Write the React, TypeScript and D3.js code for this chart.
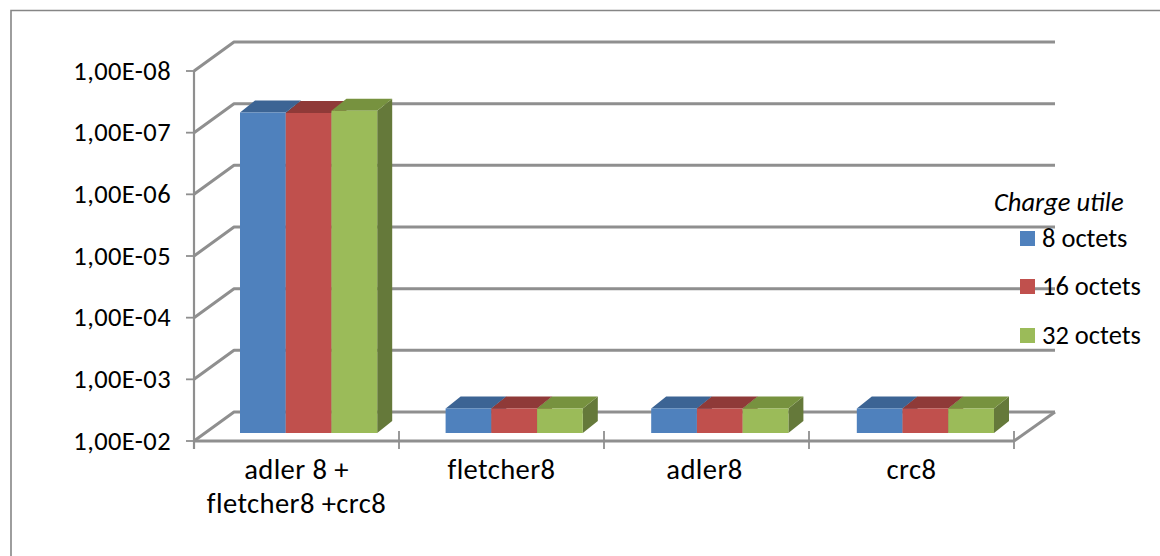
import React from "react";
import * as d3 from "d3";

const categories = ["adler 8 +\nfletcher8 +crc8", "fletcher8", "adler8", "crc8"];
const seriesNames = ["8 octets", "16 octets", "32 octets"];
const values8 = [6.35e-8, 4e-3, 4e-3, 4e-3];
const values16 = [6.47e-8, 4e-3, 4e-3, 4e-3];
const values32 = [5.94e-8, 4e-3, 4e-3, 4e-3];
const allValues = [values8, values16, values32];
const yTicks = [1e-8, 1e-7, 1e-6, 1e-5, 1e-4, 1e-3, 1e-2];
const yLabels = ["1,00E-08", "1,00E-07", "1,00E-06", "1,00E-05", "1,00E-04", "1,00E-03", "1,00E-02"];
const frontColors = ["#4f81bd", "#c0504d", "#9bbb59"];
const topColors = ["#3c6494", "#8f3a38", "#77923f"];
const sideColors = ["#34506f", "#6f2f2d", "#65793a"];

const FONT = "Carlito, Calibri, Lato, sans-serif";
const LINE = "#8f8f8f";
const DX = 40, DY = 29;
const barDX = 15, barDY = 12;

export default function App() {
  const x = d3.scaleBand<number>().domain(d3.range(categories.length)).range([194, 1014]);
  const xBar = d3.scaleBand<number>().domain(d3.range(categories.length)).range([240, 240 + 4 * 205.6]);
  const y = d3.scaleLog().domain([1e-2, 1e-8]).range([441, 71]);
  const yBar = d3.scaleLog().domain([1e-2, 1e-8]).range([433, 63]);
  const inner = d3.scaleBand<number>().domain([0, 1, 2]).range([0, 137.2]);

  return (
    <svg
      width={1160}
      height={556}
      style={{ position: "absolute", left: 0, top: 0, background: "#fff" }}
      fontFamily={FONT}
    >
      <path d="M11,556V10.5H1160" fill="none" stroke="#868686" strokeWidth={1.6} />

      <g stroke={LINE} strokeWidth={3} fill="none" style={{ filter: "blur(0.5px)" }}>
        {yTicks.map((t) => {
          const py = y(t);
          return (
            <g key={t}>
              <line x1={186} x2={194} y1={py} y2={py} strokeWidth={1.8} />
              <polyline points={`194,${py} ${194 + DX},${py - DY} 1055,${py - DY}`} strokeLinejoin="round" />
            </g>
          );
        })}
        <line x1={194} x2={194} y1={71} y2={449} strokeWidth={2.2} />
        <line x1={194} x2={1014} y1={441} y2={441} />
        <line x1={1014} x2={1055} y1={441} y2={412} />
        {d3.range(categories.length + 1).map((i) => {
          const px = 194 + i * x.step();
          return <line key={i} x1={px} x2={px} y1={i === 0 ? 441 : 431} y2={449} strokeWidth={1.8} />;
        })}
      </g>

      <g style={{ filter: "blur(0.35px)" }}>
        {categories.map((c, ci) =>
          allValues.map((vals, si) => {
            const x0 = (xBar(ci) as number) + (inner(si) as number);
            const w = inner.bandwidth();
            const top = yBar(vals[ci]);
            const base = yBar(1e-2);
            return (
              <g key={c + si}>
                <polygon
                  points={`${x0 + w},${top} ${x0 + w + barDX},${top - barDY} ${x0 + w + barDX},${base - barDY} ${x0 + w},${base}`}
                  fill={sideColors[si]}
                />
                <polygon
                  points={`${x0},${top} ${x0 + w},${top} ${x0 + w + barDX},${top - barDY} ${x0 + barDX},${top - barDY}`}
                  fill={topColors[si]}
                />
                <rect x={x0} y={top} width={w} height={base - top} fill={frontColors[si]} />
              </g>
            );
          })
        )}
      </g>

      <g fontSize={26.5} fill="#000">
        {yTicks.map((t, i) => (
          <text key={t} x={171} y={y(t) + 8.6} textAnchor="end" fontSize={26.5} letterSpacing={0.4}>{yLabels[i]}</text>
        ))}
        {categories.map((c, i) =>
          c.split("\n").map((ln, j) => (
            <text
              key={ln}
              x={(x(i) as number) + x.bandwidth() / 2 - (i === 2 ? 2 : 0)}
              y={478.5 + j * 34}
              textAnchor="middle"
              fontSize={28.6}
              letterSpacing={0.4}
            >
              {ln}
            </text>
          ))
        )}
        <text x={994} y={211} fontStyle="italic">Charge utile</text>
        {seriesNames.map((s, i) => {
          const sy = [231, 279, 328][i];
          return (
            <g key={s}>
              <rect x={1020} y={sy} width={15} height={15} fill={frontColors[i]} />
              <text x={1042} y={sy + 16}>{s}</text>
            </g>
          );
        })}
      </g>
    </svg>
  );
}
